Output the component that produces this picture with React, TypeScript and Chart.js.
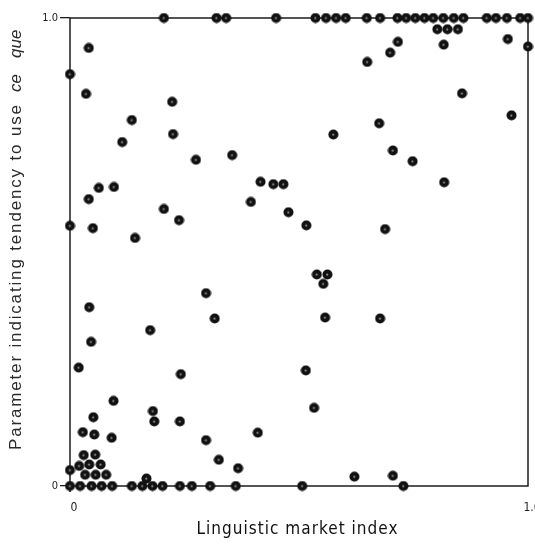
import React, { useEffect, useRef } from "react";
import { Chart, registerables } from "chart.js";

Chart.register(...registerables);

// Points lying on the upper frame (parameter = 1.0)
const topRowX = [
  0.205, 0.32, 0.341, 0.45, 0.536, 0.559, 0.581, 0.602, 0.648, 0.677, 0.715, 0.734,
  0.754, 0.774, 0.793, 0.815, 0.838, 0.859, 0.91, 0.93, 0.954, 0.983, 1.0,
];

// Points lying on the lower axis (parameter = 0)
const bottomRowX = [
  0, 0.022, 0.047, 0.069, 0.092, 0.135, 0.158, 0.18, 0.202, 0.24, 0.266, 0.306,
  0.362, 0.507, 0.728,
];

// Remaining points: linguistic market index
const scatterX = [
  0.041, 0, 0.035, 0.223, 0.135, 0.225, 0.114, 0.275, 0.354, 0.416, 0.444, 0.466,
  0.063, 0.096, 0.041, 0.395, 0.205, 0.238, 0, 0.05, 0.142, 0.802, 0.824, 0.847,
  0.716, 0.816, 0.956, 1.0, 0.699, 0.649, 0.856, 0.964, 0.675, 0.575, 0.705, 0.748,
  0.817, 0.477, 0.516, 0.688, 0.297, 0.042, 0.316, 0.175, 0.046, 0.019, 0.242, 0.095,
  0.181, 0.184, 0.24, 0.051, 0.028, 0.053, 0.091, 0.297, 0.41, 0.325, 0.367, 0.03,
  0.055, 0.02, 0.042, 0.067, 0, 0.033, 0.056, 0.079, 0.167, 0.539, 0.562, 0.553,
  0.557, 0.677, 0.515, 0.533, 0.621, 0.705,
];

// Remaining points: parameter indicating tendency to use "ce que"
const scatterY = [
  0.936, 0.88, 0.838, 0.821, 0.782, 0.752, 0.735, 0.697, 0.707, 0.65, 0.645, 0.645,
  0.637, 0.639, 0.613, 0.607, 0.592, 0.568, 0.556, 0.551, 0.53, 0.976, 0.976, 0.976,
  0.949, 0.943, 0.955, 0.939, 0.926, 0.906, 0.839, 0.792, 0.775, 0.751, 0.717, 0.694,
  0.649, 0.585, 0.557, 0.549, 0.412, 0.382, 0.358, 0.333, 0.308, 0.253, 0.239, 0.182,
  0.16, 0.138, 0.138, 0.147, 0.115, 0.11, 0.103, 0.098, 0.114, 0.056, 0.038, 0.066,
  0.067, 0.043, 0.046, 0.046, 0.034, 0.024, 0.024, 0.024, 0.016, 0.452, 0.452, 0.432,
  0.36, 0.358, 0.247, 0.167, 0.02, 0.022,
];

const xTickLabels = ["0", "1.0"];
const yTickLabels = ["0", "1.0"];
const xTitle = "Linguistic market index";
const yTitleMain = "Parameter indicating tendency to use";
const yTitleItalic = ["ce", "que"];

const INK = "#1c1c1c";
const TICK_FONT = { family: "'DejaVu Sans Condensed', 'DejaVu Sans', sans-serif", size: 11 };

function drawSpaced(ctx: CanvasRenderingContext2D, text: string, x: number, y: number, target: number) {
  (ctx as any).letterSpacing = "0px";
  const w0 = ctx.measureText(text).width;
  const ls = Math.max(0, (target - w0) / Math.max(1, text.length - 1));
  (ctx as any).letterSpacing = ls + "px";
  ctx.fillText(text, x, y);
  (ctx as any).letterSpacing = "0px";
}

export default function App() {
  const ref = useRef<HTMLCanvasElement>(null);

  useEffect(() => {
    document.body.style.margin = "0";
    const canvas = ref.current;
    if (!canvas) return;

    const dot = document.createElement("canvas");
    dot.width = 11;
    dot.height = 11;
    const d = dot.getContext("2d")!;
    d.fillStyle = "#111";
    d.beginPath();
    d.arc(5.5, 5.5, 5, 0, Math.PI * 2);
    d.fill();
    d.fillStyle = "#8c8c8c";
    d.beginPath();
    d.arc(5.3, 5.7, 1.1, 0, Math.PI * 2);
    d.fill();

    const points = [
      ...topRowX.map((x) => ({ x, y: 1 })),
      ...bottomRowX.map((x) => ({ x, y: 0 })),
      ...scatterX.map((x, i) => ({ x, y: scatterY[i] })),
    ];

    const framePlugin = {
      id: "frame",
      beforeDatasetsDraw(chart: any) {
        const { ctx, chartArea: a } = chart;
        ctx.save();
        ctx.strokeStyle = INK;
        ctx.lineWidth = 1.5;
        ctx.strokeRect(a.left, a.top, a.right - a.left, a.bottom - a.top);
        ctx.beginPath();
        ctx.moveTo(a.left, a.bottom);
        ctx.lineTo(a.left, a.bottom + 6);
        ctx.stroke();
        ctx.restore();
      },
      afterDraw(chart: any) {
        const { ctx, chartArea: a } = chart;
        ctx.save();
        ctx.fillStyle = "#111";
        // x-axis title
        ctx.font = "17px 'DejaVu Sans Condensed', 'DejaVu Sans', sans-serif";
        ctx.textAlign = "left";
        ctx.textBaseline = "middle";
        const cx = (a.left + a.right) / 2 - 2;
        const xw = 201;
        drawSpaced(ctx, xTitle, cx - xw / 2, a.bottom + 44, xw);

        // y-axis title (rotated), with italic "ce que"
        ctx.translate(16, a.bottom - 36);
        ctx.rotate(-Math.PI / 2);
        ctx.fillStyle = "#2a2a2a";
        ctx.font = "17px 'Liberation Sans', Arial, sans-serif";
        drawSpaced(ctx, yTitleMain, 0, 0, 345);
        ctx.font = "italic 17px 'Liberation Sans', Arial, sans-serif";
        drawSpaced(ctx, yTitleItalic[0], 358, 0, 16);
        drawSpaced(ctx, yTitleItalic[1], 392, 0, 28);
        ctx.restore();
      },
    };

    const chart = new Chart(canvas, {
      type: "scatter",
      data: {
        datasets: [
          {
            data: points,
            pointStyle: dot as any,
            pointRadius: 5,
            clip: false as any,
          },
        ],
      },
      options: {
        responsive: false,
        animation: false,
        layout: { padding: { top: 18, right: 7, left: 0, bottom: 0 } },
        plugins: { legend: { display: false }, tooltip: { enabled: false } },
        scales: {
          x: {
            type: "linear",
            min: 0,
            max: 1,
            afterFit: (s: any) => {
              s.height = 60;
              s.paddingLeft = 0;
              s.paddingRight = 0;
            },
            ticks: {
              stepSize: 1,
              autoSkip: false,
              maxRotation: 0,
              padding: 7,
              labelOffset: 4,
              color: "#222",
              font: { ...TICK_FONT, size: 12 },
              callback: (v: any) => (v === 0 ? xTickLabels[0] : v === 1 ? xTickLabels[1] : ""),
            },
            grid: { display: false },
            border: { display: false },
          },
          y: {
            type: "linear",
            min: 0,
            max: 1,
            afterFit: (s: any) => {
              s.width = 70;
              s.paddingTop = 0;
              s.paddingBottom = 0;
            },
            ticks: {
              stepSize: 1,
              autoSkip: false,
              padding: 2,
              color: "#222",
              font: TICK_FONT,
              callback: (v: any) => (v === 0 ? yTickLabels[0] : v === 1 ? yTickLabels[1] : ""),
            },
            grid: {
              drawOnChartArea: false,
              drawTicks: true,
              tickLength: 10,
              color: INK,
              lineWidth: 1.3,
            },
            border: { display: false },
          },
        },
      },
      plugins: [framePlugin],
    } as any);

    return () => chart.destroy();
  }, []);

  return <canvas ref={ref} width={535} height={546} style={{ display: "block" }} />;
}
